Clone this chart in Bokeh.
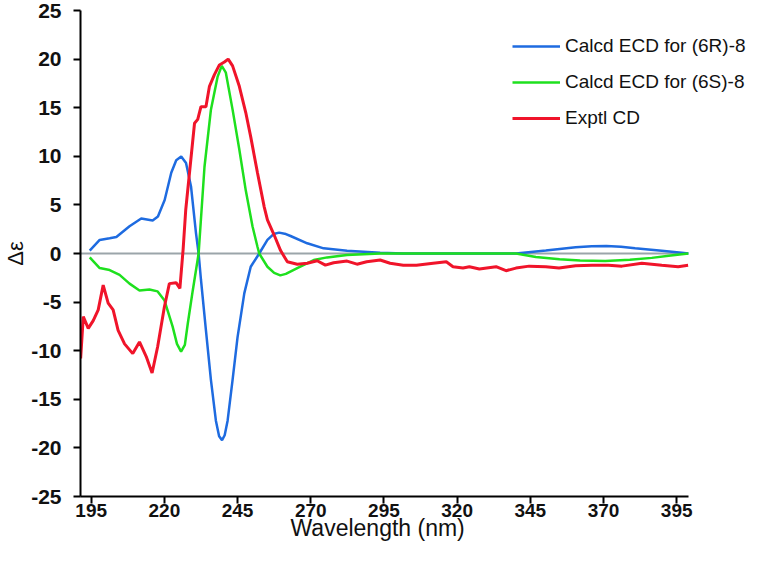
from bokeh.plotting import figure
from bokeh.models import Range1d, Legend, LegendItem, FixedTicker, Title
from bokeh.embed import file_html
from bokeh.resources import INLINE

# --- data ---
wl_6r = [194.5, 197.9, 201.3, 203.6, 208.1, 212.1, 216.0, 217.8, 220.1, 222.35, 224.05, 225.75,
         227.4, 229.1, 230.8, 231.7, 232.5, 234.2, 235.9, 237.6, 238.7, 239.7, 240.6, 241.6,
         243.3, 245.0, 247.3, 249.5, 252.4, 255.2, 257.3, 259.2, 261.5, 263.1, 268.8, 274.4,
         282.4, 293.7, 301.6, 340.1, 350.3, 360.5, 366.0, 371.0, 376.0, 380.8, 389.9, 396.7, 399.0]
de_6r = [0.3, 1.4, 1.57, 1.7, 2.8, 3.6, 3.4, 3.8, 5.5, 8.3, 9.6, 9.98,
         9.3, 6.9, 2.1, 0.0, -2.7, -7.9, -13.0, -17.2, -18.8, -19.2, -18.7, -17.2,
         -13.0, -8.6, -4.1, -1.36, 0.0, 1.4, 2.0, 2.15, 2.0, 1.8, 1.05, 0.53,
         0.29, 0.08, 0.0, 0.0, 0.3, 0.64, 0.75, 0.77, 0.7, 0.53, 0.29, 0.08, 0.0]

wl_6s = [194.5, 197.9, 201.3, 204.7, 208.1, 211.5, 214.9, 217.7, 220.0, 222.8, 224.3, 225.7,
         227.0, 228.0, 229.7, 231.7, 233.7, 235.9, 238.2, 239.6, 241.0, 243.3, 245.6, 247.8,
         250.1, 251.8, 252.4, 255.2, 257.5, 259.6, 261.5, 265.4, 271.0, 275.6, 282.4, 293.7,
         340.1, 346.9, 355.0, 362.0, 370.6, 379.0, 386.5, 393.0, 399.0]
de_6s = [-0.4, -1.5, -1.7, -2.2, -3.1, -3.8, -3.7, -3.9, -4.8, -7.5, -9.3, -10.1,
         -9.4, -7.2, -3.8, 0.0, 8.9, 14.8, 18.2, 19.3, 18.6, 14.8, 10.7, 6.5,
         2.8, 0.7, 0.0, -1.36, -2.0, -2.25, -2.1, -1.5, -0.67, -0.4, -0.15, 0.0,
         0.0, -0.35, -0.6, -0.72, -0.77, -0.65, -0.45, -0.2, 0.0]

wl_exp = [191.4, 192.3, 194.0, 195.7, 197.4, 199.1, 200.8, 202.5, 204.2, 206.4, 209.2, 211.5,
          213.8, 215.8, 217.7, 220.0, 221.7, 224.0, 225.3, 226.4, 227.3, 230.3, 231.4, 232.5,
          234.2, 235.4, 237.1, 238.8, 240.5, 241.8, 243.3, 245.6, 247.8, 249.5, 251.8, 254.1,
          255.2, 257.5, 259.7, 262.0, 265.4, 268.8, 272.2, 275.0, 277.8, 282.4, 285.8, 289.1,
          293.7, 297.1, 301.6, 306.1, 311.8, 316.3, 318.6, 322.0, 324.2, 327.6, 333.3, 336.7,
          340.1, 344.6, 350.3, 354.8, 360.5, 366.1, 371.8, 376.3, 383.1, 389.9, 395.5, 398.9]
de_exp = [-10.8, -6.5, -7.7, -6.9, -5.8, -3.25, -5.1, -5.8, -7.9, -9.3, -10.3, -9.1,
          -10.6, -12.3, -9.6, -5.5, -3.1, -3.0, -3.6, 0.4, 4.5, 13.4, 13.8, 15.1,
          15.1, 17.2, 18.4, 19.4, 19.7, 20.0, 19.3, 17.2, 14.5, 12.0, 8.3, 4.8,
          3.45, 1.9, 0.3, -0.85, -1.1, -1.0, -0.75, -1.2, -0.95, -0.78, -1.1, -0.85,
          -0.67, -1.0, -1.2, -1.2, -1.0, -0.85, -1.36, -1.5, -1.36, -1.6, -1.36, -1.77,
          -1.5, -1.3, -1.36, -1.5, -1.25, -1.2, -1.2, -1.3, -1.0, -1.2, -1.36, -1.2]

x_ticks = [195, 220, 245, 270, 295, 320, 345, 370, 395]
y_ticks = [-25, -20, -15, -10, -5, 0, 5, 10, 15, 20, 25]
labels = ["Calcd ECD for (6R)-8", "Calcd ECD for (6S)-8", "Exptl CD"]
colors = ["#1e6be0", "#1ee01e", "#f0142a"]

FONT = "Liberation Sans"
X_MIN, X_MAX = 191.35, 398.9          # extent of the wavelength axis
PX_PER_NM = 2.945
FRAME_LEFT = 76
FRAME_W = 748 - FRAME_LEFT             # frame is widened so the legend is not clipped
X_VIEW_END = X_MIN + FRAME_W / PX_PER_NM

p = figure(width=748, height=566, output_backend="svg", toolbar_location=None,
           x_range=Range1d(X_MIN, X_VIEW_END), y_range=Range1d(-25, 25),
           min_border_left=FRAME_LEFT, min_border_right=0, min_border_top=10, min_border_bottom=70)
p.outline_line_color = None
p.xgrid.visible = False
p.ygrid.visible = False

# zero line, limited to the axis extent
p.line([X_MIN, X_MAX], [0, 0], line_color="#9ba5aa", line_width=2)

r1 = p.line(wl_6r, de_6r, line_color=colors[0], line_width=2.5)
r2 = p.line(wl_6s, de_6s, line_color=colors[1], line_width=2.5)
r3 = p.line(wl_exp, de_exp, line_color=colors[2], line_width=3)

p.xaxis.ticker = FixedTicker(ticks=x_ticks)
p.yaxis.ticker = FixedTicker(ticks=y_ticks)
p.xaxis.bounds = (X_MIN, X_MAX)
p.yaxis.major_label_overrides = {t: str(t) for t in y_ticks}
for ax in (p.xaxis, p.yaxis):
    ax.axis_line_color = "black"
    ax.axis_line_width = 2
    ax.major_tick_line_color = "black"
    ax.major_tick_line_width = 2
    ax.major_tick_in = 0
    ax.major_tick_out = 7
    ax.minor_tick_line_color = None
    ax.major_label_text_font = FONT
    ax.major_label_text_font_style = "bold"
    ax.major_label_text_color = "#111111"
    ax.axis_label_text_font = FONT
    ax.axis_label_text_font_style = "normal"
    ax.axis_label_text_color = "#111111"

p.xaxis.major_label_text_font_size = "19px"
p.yaxis.major_label_text_font_size = "21px"
p.xaxis.major_label_standoff = 0
p.yaxis.major_label_standoff = 12
p.yaxis.axis_label = "Δε"
p.yaxis.axis_label_text_font_size = "22px"
p.yaxis.axis_label_standoff = 0

xtitle = Title(text="Wavelength (nm)", align="left", offset=210, standoff=-13,
               text_font=FONT, text_font_size="23px", text_font_style="normal",
               text_color="#111111")
p.add_layout(xtitle, "below")

legend = Legend(items=[LegendItem(label=labels[0], renderers=[r1]),
                       LegendItem(label=labels[1], renderers=[r2]),
                       LegendItem(label=labels[2], renderers=[r3])],
                location=(432, 367), padding=0, margin=0, spacing=14,
                glyph_width=48, glyph_height=22, label_height=22, label_standoff=5,
                label_text_font=FONT, label_text_font_size="19px", label_text_color="#111111",
                border_line_color=None, background_fill_alpha=0)
p.add_layout(legend)

open("out.html", "w").write(file_html(p, INLINE))
